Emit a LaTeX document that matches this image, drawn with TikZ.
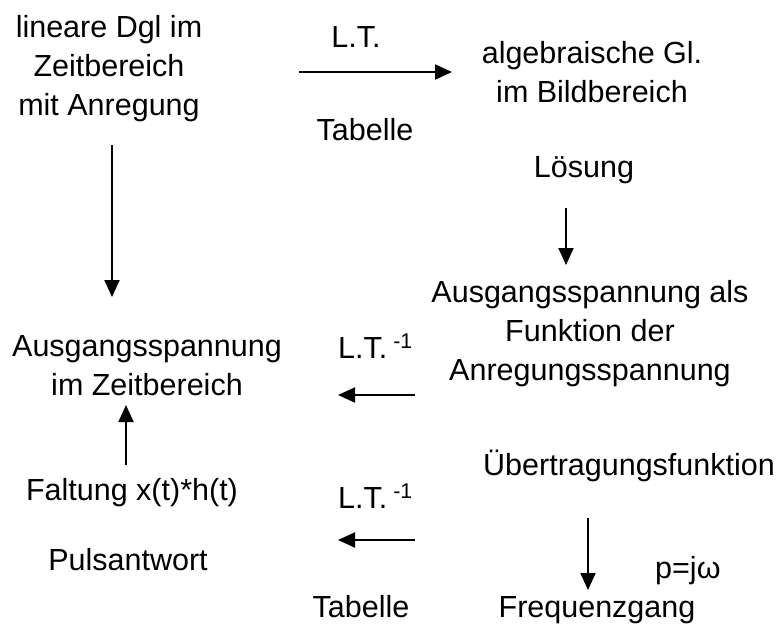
\documentclass[tikz,border=0pt]{standalone}
\usepackage{fontspec}
\setmainfont{Liberation Sans}
\usetikzlibrary{arrows.meta}
\begin{document}
\begin{tikzpicture}[x=1pt,y=-1pt,
  txt/.style={align=center,inner sep=0pt,font=\fontsize{30.5}{39}\selectfont},
  arr/.style={line width=2pt,-{Triangle[length=17pt,width=15pt]}}]
\useasboundingbox (0,0) rectangle (781,633);
\node[txt] (dgl) at (109,69) {lineare Dgl im\\Zeitbereich\\mit Anregung};
\node[txt,anchor=base] (lt1) at (356,47) {L.T.};
\node[txt,anchor=base] (tab1) at (365,140) {Tabelle};
\node[txt] (alg) at (592,72) {algebraische Gl.\\im Bildbereich};
\node[txt,anchor=base] (loes) at (584,177) {Lösung};
\node[txt] (ausf) at (590,334) {Ausgangsspannung als\\Funktion der\\Anregungsspannung};
\node[txt] (ausz) at (147,366) {Ausgangsspannung\\im Zeitbereich};
\node[txt,anchor=base west] (lti1) at (338,358) {L.T.\textsuperscript{ -1}};
\node[txt,anchor=base] (falt) at (132,500) {Faltung x(t)*h(t)};
\node[txt,anchor=base] (puls) at (128,570) {Pulsantwort};
\node[txt,anchor=base west] (lti2) at (338,508) {L.T.\textsuperscript{ -1}};
\node[txt,anchor=base] (ueb) at (629,475) {Übertragungsfunktion};
\node[txt,anchor=base west] (pjw) at (655,578) {p=jω};
\node[txt,anchor=base] (tab2) at (361,617) {Tabelle};
\node[txt,anchor=base] (freq) at (597,617) {Frequenzgang};
\coordinate (a1s) at (299,72); \coordinate (a1e) at (452,72);
\coordinate (a2s) at (566,208); \coordinate (a2e) at (566,265);
\coordinate (a3s) at (112,145); \coordinate (a3e) at (112,297);
\coordinate (a4s) at (415,395); \coordinate (a4e) at (338,395);
\coordinate (a5s) at (126,465); \coordinate (a5e) at (126,405);
\coordinate (a6s) at (415,540); \coordinate (a6e) at (338,540);
\coordinate (a7s) at (588,518); \coordinate (a7e) at (588,590);
\draw[arr] (a1s) -- (a1e);
\draw[arr] (a2s) -- (a2e);
\draw[arr] (a3s) -- (a3e);
\draw[arr] (a4s) -- (a4e);
\draw[arr] (a5s) -- (a5e);
\draw[arr] (a6s) -- (a6e);
\draw[arr] (a7s) -- (a7e);
\end{tikzpicture}
\end{document}
